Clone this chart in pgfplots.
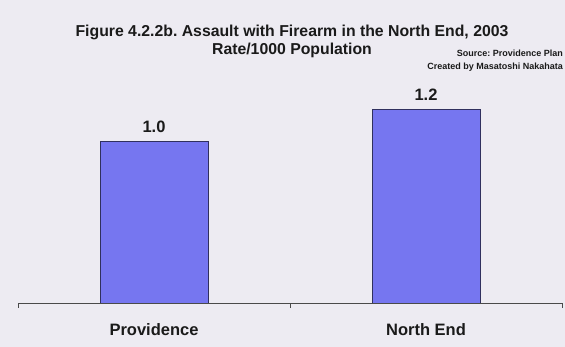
\documentclass[border=0pt]{standalone}
\usepackage{pgfplots}
\pgfplotsset{compat=1.18}
\usepackage{fontspec}
\setmainfont{Liberation Sans}
\frenchspacing
\definecolor{bg}{HTML}{EDEBF2}
\definecolor{barfill}{HTML}{7676F0}
\definecolor{barline}{HTML}{30305E}
\definecolor{axcol}{HTML}{4A4A4A}
\definecolor{txt}{HTML}{1A1A1A}
\begin{document}
\begin{tikzpicture}
\useasboundingbox (0,0) rectangle (565pt,347pt);
\clip (0,0) rectangle (565pt,347pt);
\fill[bg] (0,0) rectangle (565pt,347pt);
\node[anchor=base, inner sep=0, text=txt, font=\bfseries\fontsize{15.8}{18}\selectfont] at (292pt,310pt) {Figure 4.2.2b. Assault with Firearm in the North End, 2003};
\node[anchor=base, inner sep=0, text=txt, font=\bfseries\fontsize{15.8}{18}\selectfont] at (292pt,292pt) {Rate/1000 Population};
\node[anchor=base east, inner sep=0, text=txt, font=\bfseries\fontsize{9}{11}\selectfont] at (563pt,290pt) {Source: Providence Plan};
\node[anchor=base east, inner sep=0, text=txt, font=\bfseries\fontsize{9}{11}\selectfont] at (563pt,277pt) {Created by Masatoshi Nakahata};
\begin{axis}[
  at={(18pt,44pt)}, anchor=south west,
  scale only axis, width=544pt, height=242.25pt,
  xmin=-0.5, xmax=1.5, ymin=0, ymax=1.5,
  axis x line*=bottom, axis y line=none,
  x axis line style={draw=axcol, line width=0.9pt, -},
  ybar, bar width=108pt,
  xtick={0,1}, xticklabels={Providence, North End},
  major tick length=0pt,
  tick align=outside,
  extra x ticks={-0.5,0.5,1.5}, extra x tick labels={},
  extra x tick style={major tick length=5pt, tick style={draw=axcol, line width=0.7pt}},
  xticklabel style={anchor=base, yshift=-33pt, inner sep=0, text=txt, font=\bfseries\fontsize{16.5}{18}\selectfont},
  nodes near coords,
  nodes near coords style={anchor=base, yshift=8.5pt, inner sep=0, text=txt, font=\bfseries\fontsize{16.5}{18}\selectfont,
    /pgf/number format/.cd, fixed, fixed zerofill, precision=1, assume math mode=true},
  ytick=\empty,
]
\addplot[fill=barfill, draw=barline, line width=0.9pt] coordinates {(0,1.0) (1,1.2)};
\end{axis}
\end{tikzpicture}
\end{document}
